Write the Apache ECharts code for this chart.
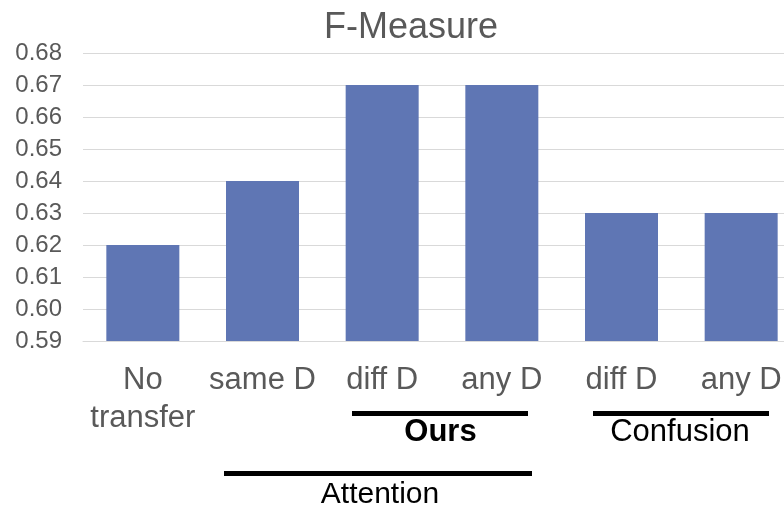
<!DOCTYPE html>
<html>
<head>
<meta charset="utf-8">
<script src="https://cdn.jsdelivr.net/npm/echarts@6/dist/echarts.min.js"></script>
<style>
html,body{margin:0;padding:0;background:#fff;overflow:hidden;width:784px;height:509px;}
#chart{width:801px;height:509px;}
</style>
</head>
<body>
<div id="chart"></div>
<script>
const categories = ['No\ntransfer', 'same D', 'diff D', 'any D', 'diff D', 'any D'];
const fMeasure = [0.62, 0.64, 0.67, 0.67, 0.63, 0.63];
const yMin = 0.59, yMax = 0.68, yStep = 0.01;

const chart = echarts.init(document.getElementById('chart'), null, {renderer: 'canvas'});
const font = 'Liberation Sans, Arial, sans-serif';
chart.setOption({
  animation: false,
  backgroundColor: '#fff',
  grid: {left: 83, top: 53, bottom: 168, right: 0, containLabel: false},
  xAxis: {
    type: 'category',
    data: categories,
    axisLine: {lineStyle: {color: '#d9d9d9', width: 1}},
    axisTick: {show: false},
    axisLabel: {interval: 0, color: '#595959', fontFamily: font, fontSize: 31, lineHeight: 38, margin: 20}
  },
  yAxis: {
    type: 'value',
    min: yMin, max: yMax, interval: yStep,
    axisLine: {show: false},
    axisTick: {show: false},
    splitLine: {lineStyle: {color: '#d9d9d9', width: 1}},
    axisLabel: {color: '#595959', fontFamily: font, fontSize: 24, margin: 21,
      formatter: v => v.toFixed(2)}
  },
  series: [{
    type: 'bar',
    data: fMeasure,
    barWidth: 73,
    itemStyle: {color: '#5F76B4'}
  }],
  graphic: [
    {type: 'text', style: {x: 411, y: 28, text: 'F-Measure', fill: '#595959', font: '36px ' + font, textAlign: 'center', textVerticalAlign: 'middle'}},
    {type: 'rect', shape: {x: 352, y: 411, width: 176, height: 5}, style: {fill: '#000'}},
    {type: 'rect', shape: {x: 593, y: 411, width: 176, height: 5}, style: {fill: '#000'}},
    {type: 'rect', shape: {x: 224, y: 471, width: 308, height: 5}, style: {fill: '#000'}},
    {type: 'text', style: {x: 440.5, y: 432, text: 'Ours', fill: '#000', font: 'bold 31px ' + font, textAlign: 'center', textVerticalAlign: 'middle'}},
    {type: 'text', style: {x: 680, y: 432, text: 'Confusion', fill: '#000', font: '31px ' + font, textAlign: 'center', textVerticalAlign: 'middle'}},
    {type: 'text', style: {x: 380, y: 494.5, text: 'Attention', fill: '#000', font: '30px ' + font, textAlign: 'center', textVerticalAlign: 'middle'}}
  ]
});
</script>
</body>
</html>
